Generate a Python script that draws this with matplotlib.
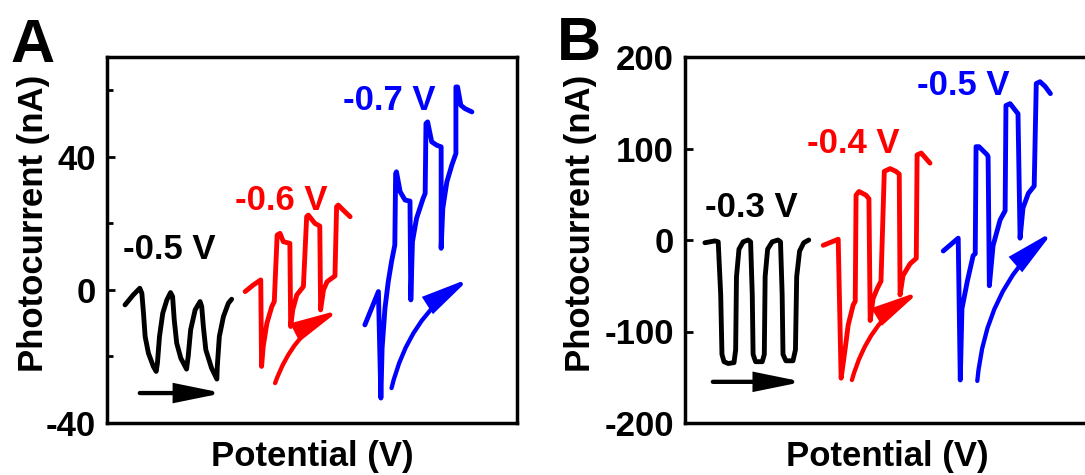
import matplotlib
matplotlib.use("Agg")
import matplotlib.pyplot as plt
from matplotlib.ticker import MultipleLocator

plt.rcParams["font.family"] = ["Liberation Sans", "DejaVu Sans"]
plt.rcParams["font.weight"] = "bold"
plt.rcParams["axes.unicode_minus"] = False

FS = 25
LW = 3.5

# ================= Panel A data (x: arbitrary units, y: nA) =================
a_black_x = [4.4, 6.4, 8.0, 8.5, 8.9, 9.3, 10.1, 11.3, 12.0, 12.3, 12.8, 13.6, 14.6, 15.5,
             16.0, 16.4, 17.0, 18.0, 19.4, 19.8, 20.4, 21.5, 22.7,
             23.1, 23.5, 24.1, 25.5, 26.8, 26.9, 27.4, 28.4, 29.6, 30.4]
a_black_y = [-4.5, -1.5, 0.5, -1.0, -7.0, -14.0, -19.0, -23.0, -24.5, -22.0, -14.0, -7.0, -3.0, -0.8,
             -2.0, -9.0, -16.0, -20.5, -23.8, -20.0, -12.0, -6.0, -3.5,
             -5.0, -11.0, -18.0, -23.5, -26.8, -23.0, -14.0, -8.0, -4.0, -2.8]

a_red_x = [33.7, 35.7, 37.5, 37.7, 38.1, 39.0, 40.2, 40.8, 41.5, 42.2, 43.0, 44.6,
           44.8, 45.3, 46.3, 47.9, 48.7, 49.1, 50.7, 51.9,
           52.1, 52.8, 53.7, 55.6, 56.0, 56.4, 57.6, 59.3]
a_red_y = [-0.5, 1.5, 3.0, -23.0, -17.0, -10.0, -5.0, -3.5, 16.5, 17.0, 14.5, 14.0,
           -11.0, -6.0, -1.5, 1.0, 22.0, 22.5, 20.0, 19.2,
           -6.0, 0.0, 2.5, 4.2, 25.0, 25.5, 24.0, 22.0]

a_blue_x = [62.9, 66.2, 66.8, 67.1, 67.8, 68.6, 69.4, 70.2, 70.4, 70.6, 71.5, 72.7, 73.9,
            74.1, 74.5, 75.5, 77.1, 77.6, 77.8, 78.2, 79.2, 80.4, 81.5,
            81.5, 81.9, 82.9, 84.1, 85.1, 85.1, 85.5, 86.3, 87.3, 89.0]
a_blue_y = [-10.5, -0.5, -32.5, -17.5, -5.5, 2.5, 8.5, 13.5, 35.0, 35.5, 29.5, 27.0, 26.7,
            -3.0, 14.5, 21.5, 27.5, 29.0, 50.0, 50.5, 44.5, 43.5, 43.0,
            12.5, 24.5, 32.5, 37.5, 41.0, 61.0, 61.0, 55.5, 54.5, 53.5]

a_labels = ["-0.5 V", "-0.6 V", "-0.7 V"]
a_label_pos = [(3.9, 12), (31.2, 27), (57.6, 57)]
# arrows: (start, tip, curvature)
a_arrows = [((8.0, -31), (28.3, -31), 0.0),
            ((41.0, -28), (56.8, -6), -0.2),
            ((69.4, -29.5), (88.5, 3.5), -0.2)]

# ================= Panel B data =================
b_black_x = [4.8, 7.2, 8.0, 8.6, 8.9, 9.4, 10.4, 11.8, 12.2, 12.4, 13.0, 14.0, 15.2,
             15.8, 16.2, 16.4, 17.0, 18.6, 19.1, 19.3, 19.9, 21.0, 22.4,
             23.0, 23.4, 23.6, 24.3, 26.0, 26.6, 26.9, 27.6, 28.6, 29.8]
b_black_y = [-3, -1, -2, -60, -125, -133, -135, -134, -120, -40, -10, -2, 0,
             -2, -60, -125, -133, -133, -125, -40, -10, -2, 0,
             -2, -60, -125, -132, -132, -120, -40, -12, -3, 0]

b_red_x = [33.3, 36.9, 37.6, 38.6, 39.3, 40.5, 41.0, 41.2, 41.9, 43.6, 44.3,
           44.6, 45.3, 46.3, 47.2, 48.0, 49.4, 50.8, 51.6,
           51.8, 52.5, 54.2, 55.7, 55.9, 56.9, 59.0]
b_red_y = [-5.8, 0.8, -151, -118, -93, -71, -67, 49, 53, 49, 45,
           -88, -64, -53, -45, 75, 78, 75, 72,
           -60, -39, -26, -20, 93, 95, 84]

b_blue_x = [62.2, 65.8, 66.3, 66.7, 68.0, 69.4, 69.9, 70.1, 70.8, 72.8, 73.0,
            73.3, 74.2, 75.9, 77.1, 77.3, 78.3, 79.5, 80.2,
            80.7, 81.4, 82.7, 84.1, 84.6, 85.5, 86.7, 88.0]
b_blue_y = [-12, 2, -153, -75, -45, -17, -15, 102, 102, 93, 91,
            -50, -6, 22, 32, 147, 149, 142, 138,
            2, 35, 51, 59, 171, 173, 168, 160]

b_labels = ["-0.3 V", "-0.4 V", "-0.5 V"]
b_label_pos = [(4.8, 36), (29.3, 106), (55.8, 169)]
b_arrows = [((6.7, -155), (28.4, -155), 0.0),
            ((40.2, -153), (56.6, -56), -0.2),
            ((70.4, -154), (88.7, 9.5), -0.2)]

colors = ["black", "red", "blue"]

fig = plt.figure(figsize=(10.85, 4.75), dpi=100)
axA = fig.add_axes([107 / 1085, 52 / 475, 410 / 1085, 366 / 475])
axB = fig.add_axes([685 / 1085, 52 / 475, 404 / 1085, 366 / 475])


def draw_panel(ax, traces, labels, label_pos, arrows):
    for (x, y), c in zip(traces, colors):
        ax.plot(x, y, color=c, lw=LW, solid_joinstyle="round", solid_capstyle="round")
    for text, (lx, ly), c in zip(labels, label_pos, colors):
        ax.text(lx, ly, text, color=c, fontsize=FS, fontweight="bold", ha="left", va="center")
    for (start, tip, rad), c in zip(arrows, colors):
        ax.annotate("", xy=tip, xytext=start,
                    arrowprops=dict(arrowstyle="-|>,head_length=2.7,head_width=0.55",
                                    mutation_scale=10, connectionstyle=f"arc3,rad={rad}",
                                    color=c, lw=LW - 0.4, shrinkA=0, shrinkB=0,
                                    joinstyle="miter"))
    for s in ax.spines.values():
        s.set_linewidth(2.5)
    ax.set_xticks([])
    ax.tick_params(axis="y", which="both", direction="in", labelsize=FS, width=2, pad=8)
    ax.tick_params(axis="y", which="major", length=6)
    ax.tick_params(axis="y", which="minor", length=4)
    ax.set_xlabel("Potential (V)", fontsize=FS, fontweight="bold", labelpad=12)


draw_panel(axA, [(a_black_x, a_black_y), (a_red_x, a_red_y), (a_blue_x, a_blue_y)],
           a_labels, a_label_pos, a_arrows)
axA.set_xlim(0, 100)
axA.set_ylim(-40, 70)
axA.yaxis.set_major_locator(MultipleLocator(40))
axA.yaxis.set_minor_locator(MultipleLocator(20))
axA.set_ylabel("Photocurrent (nA)", fontsize=FS, fontweight="bold")
axA.yaxis.set_label_coords(-0.139, 0.546)

draw_panel(axB, [(b_black_x, b_black_y), (b_red_x, b_red_y), (b_blue_x, b_blue_y)],
           b_labels, b_label_pos, b_arrows)
axB.set_xlim(0, 97.3)
axB.set_ylim(-200, 200)
axB.yaxis.set_major_locator(MultipleLocator(100))
axB.set_ylabel("Photocurrent (nA)", fontsize=FS, fontweight="bold")
axB.yaxis.set_label_coords(-0.218, 0.546)

for ax in (axA, axB):
    for lab in ax.get_yticklabels():
        lab.set_fontweight("bold")

fig.text(33 / 1085, 1 - 47 / 475, "A", fontsize=44, fontweight="bold", ha="center", va="center")
fig.text(579 / 1085, 1 - 45 / 475, "B", fontsize=44, fontweight="bold", ha="center", va="center")

fig.savefig("out.png", dpi=100)
